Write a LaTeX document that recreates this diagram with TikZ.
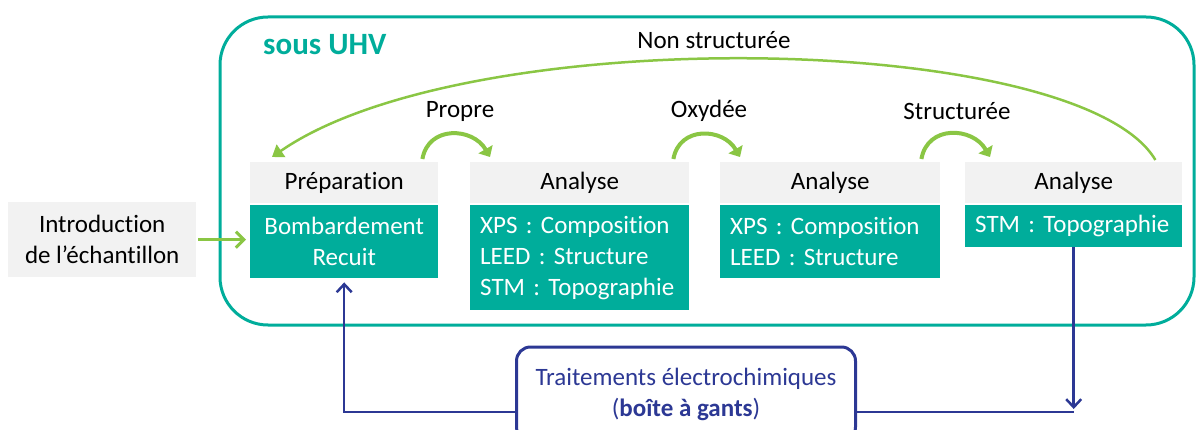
\documentclass[tikz,border=0pt]{standalone}
\usepackage{fontspec}
\setmainfont{Carlito}[Ligatures={NoCommon,NoRare,NoContextual}]
\usetikzlibrary{arrows.meta}
\frenchspacing

\definecolor{uhvteal}{RGB}{0,173,155}
\definecolor{headgray}{RGB}{242,242,242}
\definecolor{flowgreen}{RGB}{138,198,68}
\definecolor{gbnavy}{RGB}{44,56,148}

\begin{document}
\begin{tikzpicture}[x=1pt, y=-1pt,
  every node/.style={font=\fontsize{25}{31}\selectfont},
  stage/.style={fill=headgray, anchor=north west, inner sep=0pt, minimum height=41pt},
  task/.style={fill=uhvteal, text=white, anchor=north west, inner xsep=10pt, inner ysep=0pt, align=left},
  hop/.style={flowgreen, line width=4pt, -{Triangle[width=16pt,length=9pt]}},
  back/.style={flowgreen, line width=2.5pt, -{Triangle[width=15pt,length=11pt]}},
  glove/.style={gbnavy, line width=2.5pt}]

	\clip (0,0) rectangle (1196,430);

	% enceinte
	\draw[uhvteal, line width=3pt, rounded corners=48pt] (220,17) rectangle (1194,325);
	\node[anchor=west, inner sep=0pt, text=uhvteal, font=\fontsize{31}{37}\selectfont\bfseries] (uhv) at (263,45) {sous UHV};

	% les etapes
	\node[stage, minimum width=188pt] (prephead) at (250,162) {Préparation};
	\node[task, text width=168pt, align=center, minimum height=73pt] (prep) at (250,205) {Bombardement\\Recuit};

	\node[stage, minimum width=219pt] (ana1head) at (470,162) {Analyse};
	\node[task, text width=199pt, minimum height=105pt] (ana1) at (470,205) {XPS : Composition\\LEED : Structure\\STM : Topographie};

	\node[stage, minimum width=220pt] (ana2head) at (720,162) {Analyse};
	\node[task, text width=200pt, minimum height=73pt] (ana2) at (720,205) {XPS : Composition\\LEED : Structure};

	\node[stage, minimum width=217pt] (ana3head) at (965,162) {Analyse};
	\node[task, text width=197pt, minimum height=42pt] (ana3) at (965,205) {STM : Topographie};

	% entree et boite a gants
	\node[stage, minimum width=188pt, minimum height=75pt, align=center] (intro) at (8,202) {Introduction\\de l’échantillon};
	\node[gbnavy, draw, line width=3pt, rounded corners=14pt, minimum width=339pt, minimum height=94pt, align=center] (gants) at (686,394) {Traitements électrochimiques\\(\textbf{boîte à gants})};

	% les etats
	\node (propre) at (460,111) {Propre};
	\node (oxydee) at (709,111) {Oxydée};
	\node (struct) at (957,111) {Structurée};
	\node (nonstruct) at (714,40) {Non structurée};

	% fleches vertes
	\draw[hop] ([xshift=-16pt,yshift=3pt]prephead.north east) to[out=80,in=120,looseness=1.3] ([xshift=20pt,yshift=5pt]ana1head.north west);
	\draw[hop] ([xshift=-16pt,yshift=3pt]ana1head.north east) to[out=80,in=120,looseness=1.3] ([xshift=20pt,yshift=5pt]ana2head.north west);
	\draw[hop] ([xshift=-19pt,yshift=3pt]ana2head.north east) to[out=80,in=120,looseness=1.3] ([xshift=25pt,yshift=5pt]ana3head.north west);
	\draw[back] ([xshift=-27pt,yshift=2pt]ana3head.north east) .. controls (1080,32) and (470,20) .. ([xshift=22pt,yshift=5pt]prephead.north west);
	\draw[flowgreen, line width=3pt, -{Straight Barb[length=8pt,width=16pt]}] ([xshift=2pt]intro.east) -- ([xshift=-4pt]intro.east -| prep.west);

	% fleches bleues
	\coordinate (bend) at (ana3.south |- 0,412);
	\draw[glove, -{Straight Barb[length=8pt,width=15pt]}] (ana3.south) -- ([yshift=3pt]bend);
	\draw[glove] ([yshift=-18pt]gants.east) -- (bend);
	\draw[glove, -{Straight Barb[length=8pt,width=15pt]}] ([yshift=-18pt]gants.west) -| ([yshift=-4pt]prep.south);

\end{tikzpicture}
\end{document}
